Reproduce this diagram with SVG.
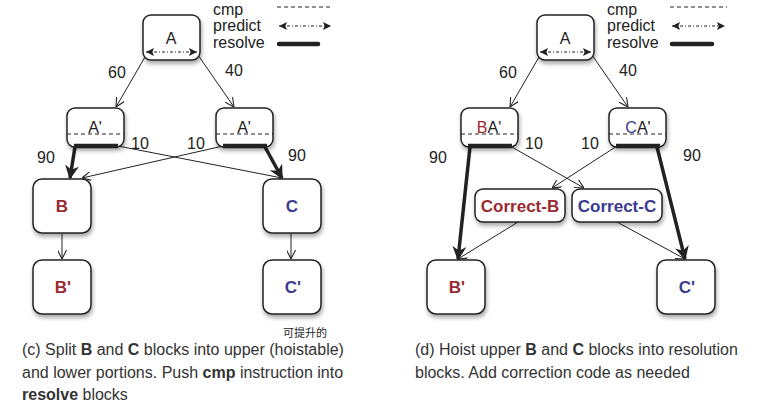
<svg xmlns="http://www.w3.org/2000/svg" width="779" height="407" viewBox="0 0 779 407">
<style>
.box{fill:#fff;stroke:#222;stroke-width:1.5;filter:url(#sh)}
.lbl{font-family:"Liberation Sans",Arial,sans-serif;font-size:16px;fill:#222}
.num{font-family:"Liberation Sans",Arial,sans-serif;font-size:16px;fill:#222}
.bc{font-family:"Liberation Sans",Arial,sans-serif;font-size:17px;font-weight:bold}
.red{fill:#9a2b32}
.blue{fill:#3b3b8f}
.cap{font-family:"Liberation Sans",Arial,sans-serif;font-size:16px;fill:#333}
.thin{stroke:#222;stroke-width:1;fill:none;marker-end:url(#open)}
.thick{stroke:#222;stroke-width:3.5;fill:none;marker-end:url(#solid)}
.res{stroke:#222;stroke-width:4.5}
.cmp{stroke:#222;stroke-width:1;stroke-dasharray:4 3}
.pred{stroke:#222;stroke-width:1;stroke-dasharray:3 2 1 2;marker-start:url(#ps);marker-end:url(#pe)}
</style>
<defs>
<filter id="sh" x="-20%" y="-20%" width="150%" height="160%">
<feDropShadow dx="1" dy="3" stdDeviation="2" flood-color="#000" flood-opacity="0.35"/>
</filter>
<marker id="open" viewBox="0 0 10 10" refX="10" refY="5" markerWidth="9" markerHeight="9" markerUnits="userSpaceOnUse" orient="auto">
<path d="M0,0 L10,5 L0,10" fill="none" stroke="#222" stroke-width="1.2"/>
</marker>
<marker id="solid" viewBox="0 0 10 10" refX="9" refY="5" markerWidth="4" markerHeight="4" orient="auto">
<path d="M0,0 L10,5 L0,10 L3,5 Z" fill="#222"/>
</marker>
<marker id="pe" viewBox="0 0 10 10" refX="10" refY="5" markerWidth="9" markerHeight="8" markerUnits="userSpaceOnUse" orient="auto">
<path d="M0,0 L10,5 L0,10 L2,5 Z" fill="#222"/>
</marker>
<marker id="ps" viewBox="0 0 10 10" refX="0" refY="5" markerWidth="9" markerHeight="8" markerUnits="userSpaceOnUse" orient="auto">
<path d="M10,0 L0,5 L10,10 L8,5 Z" fill="#222"/>
</marker>
</defs>

<!-- Left panel (c) -->
<g id="legend-c">
<text class="lbl" x="213" y="15">cmp</text>
<text class="lbl" x="213" y="31">predict</text>
<text class="lbl" x="213" y="48">resolve</text>
<line class="cmp" x1="277" y1="7" x2="333" y2="7"/>
<line class="pred" x1="279" y1="26" x2="331" y2="26"/>
<line class="res" x1="279" y1="44" x2="318" y2="44" stroke-linecap="round"/>
</g>

<g id="edges-c">
<line class="thin" x1="145" y1="57" x2="116" y2="107"/>
<line class="thin" x1="198" y1="55" x2="234" y2="107"/>
<line class="thick" x1="75" y1="147" x2="70" y2="178"/>
<line class="thick" x1="265" y1="147" x2="282" y2="178"/>
<line class="thin" x1="118" y1="146" x2="282" y2="178"/>
<line class="thin" x1="223" y1="146" x2="82" y2="178"/>
<line class="thin" x1="62" y1="234" x2="62" y2="259"/>
<line class="thin" x1="291" y1="234" x2="291" y2="259"/>
</g>

<g id="labels-c">
<text class="num" x="117" y="78" text-anchor="middle">60</text>
<text class="num" x="234" y="76" text-anchor="middle">40</text>
<text class="num" x="46" y="163" text-anchor="middle">90</text>
<text class="num" x="140" y="149" text-anchor="middle">10</text>
<text class="num" x="196" y="149" text-anchor="middle">10</text>
<text class="num" x="297" y="161" text-anchor="middle">90</text>
</g>

<g id="c-A">
<rect class="box" x="143" y="15" width="57" height="45" rx="8"/>
<text class="lbl" x="171" y="44" text-anchor="middle">A</text>
<line class="pred" x1="146" y1="52" x2="197" y2="52"/>
</g>
<g id="c-A1">
<rect class="box" x="67" y="108" width="57" height="39" rx="8"/>
<text class="lbl" x="95" y="133" text-anchor="middle">A'</text>
<line class="cmp" x1="67" y1="134" x2="124" y2="134"/>
<line class="res" x1="74" y1="146" x2="118" y2="146"/>
</g>
<g id="c-A2">
<rect class="box" x="216" y="108" width="57" height="39" rx="8"/>
<text class="lbl" x="244" y="133" text-anchor="middle">A'</text>
<line class="cmp" x1="216" y1="134" x2="273" y2="134"/>
<line class="res" x1="223" y1="146" x2="267" y2="146"/>
</g>
<g id="c-B">
<rect class="box" x="33" y="179" width="58" height="54" rx="9"/>
<text class="bc red" x="62" y="212" text-anchor="middle">B</text>
</g>
<g id="c-C">
<rect class="box" x="263" y="179" width="58" height="54" rx="9"/>
<text class="bc blue" x="292" y="212" text-anchor="middle">C</text>
</g>
<g id="c-B2">
<rect class="box" x="33" y="260" width="58" height="54" rx="9"/>
<text class="bc red" x="63" y="293" text-anchor="middle">B'</text>
</g>
<g id="c-C2">
<rect class="box" x="263" y="260" width="58" height="54" rx="9"/>
<text class="bc blue" x="293" y="293" text-anchor="middle">C'</text>
</g>

<text x="283" y="337" font-family="'Noto Sans CJK SC',sans-serif" font-size="11" fill="#222">可提升的</text>

<g id="caption-c" class="cap">
<text x="22" y="355">(c) Split <tspan font-weight="bold">B</tspan> and <tspan font-weight="bold">C</tspan> blocks into upper (hoistable)</text>
<text x="22" y="378">and lower portions. Push <tspan font-weight="bold">cmp</tspan> instruction into</text>
<text x="22" y="400"><tspan font-weight="bold">resolve</tspan> blocks</text>
</g>

<!-- Right panel (d) -->
<g id="legend-d">
<text class="lbl" x="607" y="15">cmp</text>
<text class="lbl" x="607" y="31">predict</text>
<text class="lbl" x="607" y="48">resolve</text>
<line class="cmp" x1="670" y1="7" x2="727" y2="7"/>
<line class="pred" x1="672" y1="26" x2="725" y2="26"/>
<line class="res" x1="672" y1="44" x2="712" y2="44" stroke-linecap="round"/>
</g>

<g id="edges-d">
<line class="thin" x1="539" y1="57" x2="510" y2="107"/>
<line class="thin" x1="592" y1="55" x2="628" y2="107"/>
<line class="thick" x1="470" y1="147" x2="458" y2="259"/>
<line class="thick" x1="657" y1="147" x2="685" y2="259"/>
<line class="thin" x1="510" y1="146" x2="584" y2="188"/>
<line class="thin" x1="617" y1="146" x2="552" y2="188"/>
<line class="thin" x1="518" y1="222" x2="458" y2="259"/>
<line class="thin" x1="617" y1="222" x2="685" y2="259"/>
</g>

<g id="labels-d">
<text class="num" x="508" y="78" text-anchor="middle">60</text>
<text class="num" x="628" y="76" text-anchor="middle">40</text>
<text class="num" x="438" y="163" text-anchor="middle">90</text>
<text class="num" x="534" y="149" text-anchor="middle">10</text>
<text class="num" x="590" y="149" text-anchor="middle">10</text>
<text class="num" x="692" y="161" text-anchor="middle">90</text>
</g>

<g id="d-A">
<rect class="box" x="537" y="15" width="57" height="45" rx="8"/>
<text class="lbl" x="565" y="44" text-anchor="middle">A</text>
<line class="pred" x1="540" y1="52" x2="591" y2="52"/>
</g>
<g id="d-BA1">
<rect class="box" x="461" y="108" width="57" height="39" rx="8"/>
<text class="lbl" x="489" y="133" text-anchor="middle"><tspan class="red">B</tspan>A'</text>
<line class="cmp" x1="461" y1="134" x2="518" y2="134"/>
<line class="res" x1="468" y1="146" x2="512" y2="146"/>
</g>
<g id="d-CA1">
<rect class="box" x="609" y="108" width="57" height="39" rx="8"/>
<text class="lbl" x="638" y="133" text-anchor="middle"><tspan class="blue">C</tspan>A'</text>
<line class="cmp" x1="609" y1="134" x2="666" y2="134"/>
<line class="res" x1="616" y1="146" x2="660" y2="146"/>
</g>
<g id="d-CorrB">
<rect class="box" x="475" y="189" width="90" height="33" rx="8"/>
<text class="bc red" x="520" y="212" text-anchor="middle" font-size="16">Correct-B</text>
</g>
<g id="d-CorrC">
<rect class="box" x="572" y="189" width="90" height="33" rx="8"/>
<text class="bc blue" x="617" y="212" text-anchor="middle" font-size="16">Correct-C</text>
</g>
<g id="d-B2">
<rect class="box" x="427" y="260" width="58" height="54" rx="9"/>
<text class="bc red" x="457" y="293" text-anchor="middle">B'</text>
</g>
<g id="d-C2">
<rect class="box" x="657" y="260" width="58" height="54" rx="9"/>
<text class="bc blue" x="687" y="293" text-anchor="middle">C'</text>
</g>

<g id="caption-d" class="cap">
<text x="415" y="355">(d) Hoist upper <tspan font-weight="bold">B</tspan> and <tspan font-weight="bold">C</tspan> blocks into resolution</text>
<text x="415" y="378">blocks. Add correction code as needed</text>
</g>
</svg>
